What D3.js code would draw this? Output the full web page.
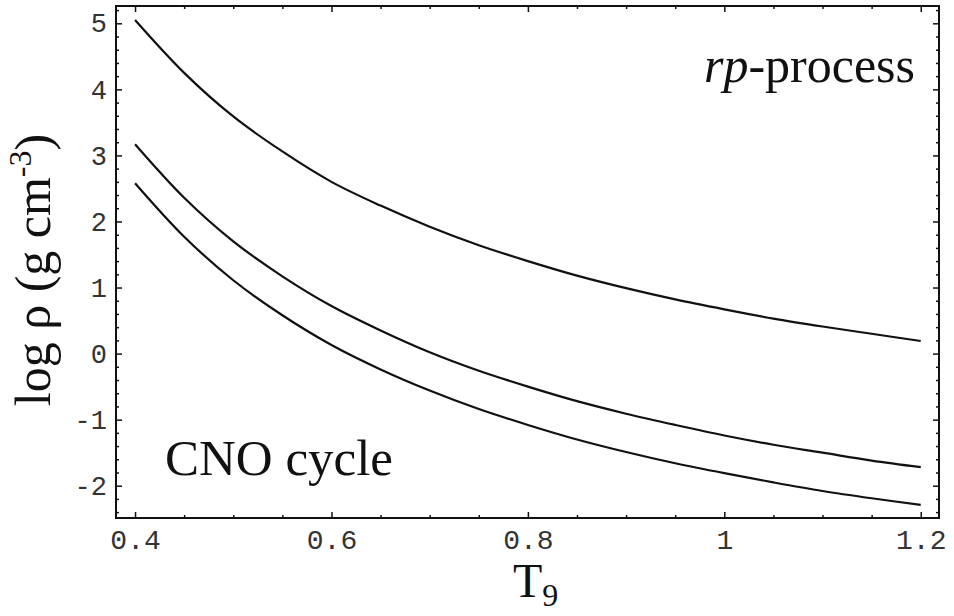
<!DOCTYPE html>
<html lang="en">
<head>
<meta charset="utf-8">
<title>log rho vs T9</title>
<style>
 body { margin: 0; background: #fff; }
 .tick text { font-family: "Liberation Mono", "DejaVu Sans Mono", monospace; fill: #333; }
 .lbl, .lbl tspan { font-family: "Liberation Serif", "Times New Roman", "DejaVu Serif", serif; fill: #111; }
</style>
<script src="https://d3js.org/d3.v7.min.js"></script>
</head>
<body>
<svg id="chart"></svg>
<script>
 // T9 sample points
 const t9 = [0.40, 0.45, 0.50, 0.55, 0.60, 0.65, 0.70, 0.75, 0.80, 0.85, 0.90, 0.95, 1.00, 1.05, 1.10, 1.15, 1.20];
 // log rho for the three lines
 const upper  = [5.05, 4.25, 3.59, 3.06, 2.60, 2.24, 1.92, 1.64, 1.40, 1.18, 0.99, 0.82, 0.67, 0.53, 0.41, 0.30, 0.19];
 const middle = [3.17, 2.36, 1.70, 1.17, 0.72, 0.35, 0.02, -0.26, -0.50, -0.72, -0.91, -1.08, -1.24, -1.38, -1.50, -1.62, -1.72];
 const lower  = [2.58, 1.77, 1.11, 0.58, 0.13, -0.24, -0.56, -0.84, -1.08, -1.30, -1.49, -1.66, -1.81, -1.95, -2.08, -2.19, -2.29];
 const xTicks = [0.4, 0.6, 0.8, 1, 1.2];
 const yTicks = [-2, -1, 0, 1, 2, 3, 4, 5];

 const W = 954, H = 616;
 const margin = {top: 6, right: 15, bottom: 98, left: 116};
 const width = W - margin.left - margin.right;
 const height = H - margin.top - margin.bottom;

 const svg = d3.select('#chart').attr('width', W).attr('height', H);
 const g = svg.append('g').attr('transform', 'translate(' + margin.left + ',' + margin.top + ')');

 const x = d3.scaleLinear().domain([0.3806, 1.2186]).range([0, width]);
 const y = d3.scaleLinear().domain([-2.489, 5.262]).range([height, 0]);

 const xMinor = d3.range(0.4, 1.2001, 0.05).filter(v => Math.abs(v * 5 - Math.round(v * 5)) > 1e-6);
 const yMinor = d3.range(-2.4, 5.2001, 0.2).filter(v => Math.abs(v - Math.round(v)) > 1e-6);

 //Ticks, all pointing inward
 function ticks(axis, vals, len) {
     return axis.tickValues(vals).tickSize(-len).tickFormat('');
 }
 g.append('g').attr('transform', 'translate(0,' + height + ')').call(ticks(d3.axisBottom(x), xMinor, 3));
 g.append('g').call(ticks(d3.axisTop(x), xMinor, 3));
 g.append('g').call(ticks(d3.axisLeft(y), yMinor, 3));
 g.append('g').attr('transform', 'translate(' + width + ',0)').call(ticks(d3.axisRight(y), yMinor, 3));
 g.append('g').call(ticks(d3.axisTop(x), xTicks, 6));
 g.append('g').attr('transform', 'translate(' + width + ',0)').call(ticks(d3.axisRight(y), yTicks, 6));

 //Labelled axes
 g.append('g').attr('transform', 'translate(0,' + height + ')')
  .call(d3.axisBottom(x).tickValues(xTicks).tickSize(-6).tickPadding(11).tickFormat(d => String(d)))
  .selectAll('text').style('font-size', '28px').attr('dy', '0.71em');
 g.append('g')
  .call(d3.axisLeft(y).tickValues(yTicks).tickSize(-6).tickPadding(9).tickFormat(d => String(d)))
  .selectAll('text').style('font-size', '27px');

 g.selectAll('.domain').remove();
 g.selectAll('.tick line').attr('stroke', '#111').attr('stroke-width', 1.5);

 //Frame
 g.append('rect').attr('width', width).attr('height', height)
  .attr('fill', 'none').attr('stroke', '#111').attr('stroke-width', 2);

 //Curves
 const line = d3.line().x(d => x(d[0])).y(d => y(d[1])).curve(d3.curveCatmullRom);
 [upper, middle, lower].forEach(s => {
     g.append('path').datum(t9.map((t, i) => [t, s[i]]))
      .attr('d', line).attr('fill', 'none').attr('stroke', '#111').attr('stroke-width', 2.2);
 });

 //Annotations
 g.append('text').attr('class', 'lbl').attr('x', 915 - margin.left).attr('y', 82 - margin.top)
  .attr('text-anchor', 'end').style('font-size', '50px')
  .html('<tspan font-style="italic">rp</tspan>-process');
 g.append('text').attr('class', 'lbl').attr('x', 165 - margin.left).attr('y', 475 - margin.top)
  .style('font-size', '51px').text('CNO cycle');

 //Axis titles
 const xt = svg.append('text').attr('class', 'lbl').attr('x', 513).attr('y', 597).style('font-size', '48px');
 xt.append('tspan').text('T');
 xt.append('tspan').attr('dy', 9).style('font-size', '32px').text('9');

 const yt = svg.append('text').attr('class', 'lbl')
  .attr('transform', 'translate(50,270)rotate(-90)').attr('text-anchor', 'middle').style('font-size', '50px');
 yt.append('tspan').text('log ρ (g cm');
 yt.append('tspan').attr('dy', -19).style('font-size', '32px').text('-3');
 yt.append('tspan').attr('dy', 19).text(')');
</script>
</body>
</html>
